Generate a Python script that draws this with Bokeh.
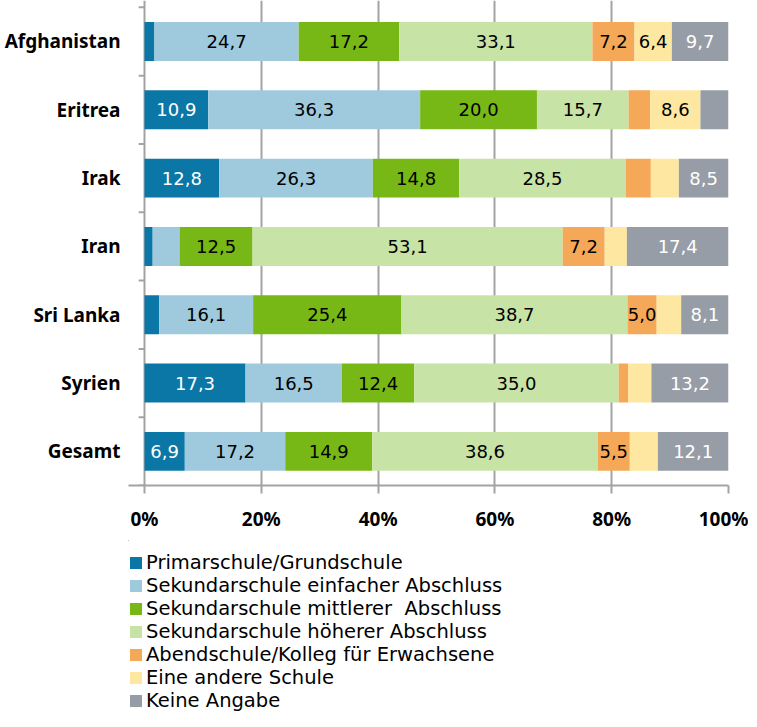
from bokeh.plotting import figure
from bokeh.models import ColumnDataSource, Range1d, FixedTicker, Legend, LegendItem
from bokeh.layouts import column
from bokeh.embed import file_html
from bokeh.resources import INLINE
from bokeh.core.properties import value

countries = ["Afghanistan", "Eritrea", "Irak", "Iran", "Sri Lanka", "Syrien", "Gesamt"]
series_names = [
    "Primarschule/Grundschule",
    "Sekundarschule einfacher Abschluss",
    "Sekundarschule mittlerer  Abschluss",
    "Sekundarschule höherer Abschluss",
    "Abendschule/Kolleg für Erwachsene",
    "Eine andere Schule",
    "Keine Angabe",
]
primar = [1.7, 10.9, 12.8, 1.4, 2.5, 17.3, 6.9]
sek_einfach = [24.7, 36.3, 26.3, 4.6, 16.1, 16.5, 17.2]
sek_mittel = [17.2, 20.0, 14.8, 12.5, 25.4, 12.4, 14.9]
sek_hoeher = [33.1, 15.7, 28.5, 53.1, 38.7, 35.0, 38.6]
abend = [7.2, 3.7, 4.3, 7.2, 5.0, 1.6, 5.5]
andere = [6.4, 8.6, 4.8, 3.8, 4.2, 4.0, 4.8]
keine = [9.7, 4.8, 8.5, 17.4, 8.1, 13.2, 12.1]
x_ticks = [0, 20, 40, 60, 80, 100]
x_tick_labels = ["0%", "20%", "40%", "60%", "80%", "100%"]

series = [primar, sek_einfach, sek_mittel, sek_hoeher, abend, andere, keine]
colors = ["#0b77a6", "#9fcadd", "#77b816", "#c8e3a6", "#f5a958", "#fee7a1", "#979da6"]
label_colors = ["white", "black", "black", "black", "black", "black", "white"]
MIN_LABEL = 5.0

n = len(countries)
ypos = [n - 0.5 - i for i in range(n)]
boundaries = [float(i) for i in range(n + 1)]

font_bold = "Noto Sans"
font_text = "DejaVu Sans"
grey = "#a3a3a3"
X_LEFT_PAD = 2.74  # room left of 0% (legend starts a little left of the bars)

p = figure(width=748, height=540, output_backend="svg", toolbar_location=None,
           x_range=Range1d(-X_LEFT_PAD, 100), y_range=Range1d(0, n + 0.1),
           min_border_left=128, min_border_right=20, min_border_top=0,
           min_border_bottom=55)
p.outline_line_color = None
p.background_fill_color = "white"

sources = []
left = [0.0] * n
for k, vals in enumerate(series):
    right = [l + v for l, v in zip(left, vals)]
    src = ColumnDataSource(dict(y=ypos, left=left, right=right))
    sources.append(src)
    p.hbar(y="y", left="left", right="right", height=0.57, source=src,
           fill_color=colors[k], line_color=None)
    lx, ly, lt = [], [], []
    for i, v in enumerate(vals):
        if v >= MIN_LABEL:
            lx.append(left[i] + v / 2)
            ly.append(ypos[i])
            lt.append(f"{v:.1f}".replace(".", ","))
    tsrc = ColumnDataSource(dict(x=lx, y=ly, t=lt))
    p.text(x="x", y="y", text="t", source=tsrc, text_align="center",
           text_baseline="middle", text_font=value(font_text),
           text_font_size="18px", text_color=label_colors[k])
    left = right

# category separator ticks just left of the 0% line
tick_len = 1.0
p.segment(x0=[-tick_len] * len(boundaries), x1=[0] * len(boundaries),
          y0=boundaries, y1=boundaries, line_color=grey, line_width=2)

# grid (the 0% grid line acts as the category axis line)
p.xgrid.ticker = FixedTicker(ticks=x_ticks)
p.xgrid.grid_line_color = grey
p.xgrid.grid_line_width = 2
p.ygrid.grid_line_color = None

# x axis
xa = p.xaxis[0]
xa.ticker = FixedTicker(ticks=x_ticks)
xa.major_label_overrides = {t: l for t, l in zip(x_ticks, x_tick_labels)}
xa.axis_line_color = grey
xa.axis_line_width = 2
xa.major_tick_line_color = grey
xa.major_tick_line_width = 2
xa.major_tick_out = 8
xa.major_tick_in = 0
xa.minor_tick_line_color = None
xa.major_label_standoff = 12
xa.major_label_text_font = font_bold
xa.major_label_text_font_style = "bold"
xa.major_label_text_font_size = "19px"
xa.major_label_text_color = "black"

# y axis (labels only)
ya = p.yaxis[0]
ya.ticker = FixedTicker(ticks=ypos)
ya.major_label_overrides = {y: c for y, c in zip(ypos, countries)}
ya.axis_line_color = None
ya.major_tick_line_color = None
ya.major_tick_out = 0
ya.major_tick_in = 0
ya.minor_tick_line_color = None
ya.minor_tick_out = 0
ya.major_label_standoff = 8
ya.major_label_text_font = font_bold
ya.major_label_text_font_style = "bold"
ya.major_label_text_font_size = "19px"
ya.major_label_text_color = "black"

# legend panel below the chart (same bar sources, kept entirely out of view)
q = figure(width=748, height=175, output_backend="svg", toolbar_location=None,
           x_range=Range1d(1000, 1001), y_range=Range1d(-1000, -999),
           min_border=0)
q.outline_line_color = None
q.axis.visible = False
q.grid.grid_line_color = None
items = []
for k, name in enumerate(series_names):
    r = q.hbar(y="y", left="left", right="right", height=0.57, source=sources[k],
               fill_color=colors[k], line_color=None)
    items.append(LegendItem(label=name, renderers=[r]))
legend = Legend(items=items, location=(0, 3), orientation="vertical",
                glyph_width=15, glyph_height=15, label_height=23, spacing=0,
                padding=0, margin=0, border_line_color=None,
                background_fill_alpha=0, label_standoff=3,
                label_text_font=font_text, label_text_font_size="19.5px",
                label_text_color="black")
q.add_layout(legend)

layout = column(p, q, spacing=0)
open("out.html", "w").write(file_html(layout, INLINE))
